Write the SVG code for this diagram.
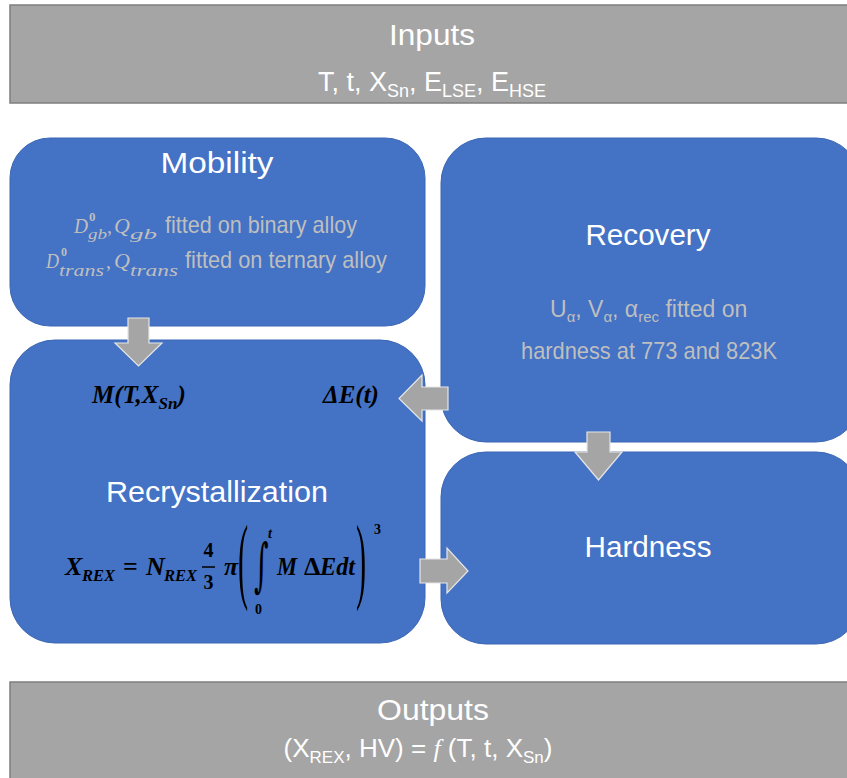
<svg xmlns="http://www.w3.org/2000/svg" width="847" height="778" viewBox="0 0 847 778">
<defs>
<style>
.gbox{fill:#A5A5A5;stroke:#7F7F7F;stroke-width:1.5}
.bbox{fill:#4472C4;stroke:#3A66B4;stroke-width:1}
.arr{fill:#A5A5A5;stroke:#E6E6E6;stroke-width:1.2}
.title{font-family:"Liberation Sans",Arial,sans-serif;fill:#FFFFFF;font-size:30px}
.body{font-family:"Liberation Sans",Arial,sans-serif;fill:#BFBFBF;font-size:24px}
.mg{font-family:"Liberation Serif","Times New Roman",serif;fill:#BFBFBF;font-style:italic}
.mb{font-family:"Liberation Serif","Times New Roman",serif;fill:#000000;font-style:italic;font-weight:bold}
.mr{font-family:"Liberation Serif","Times New Roman",serif;fill:#000000}
</style>
</defs>

<g id="inputs">
<rect class="gbox" x="10" y="5" width="845" height="98"/>
<text class="title" x="432" y="45" text-anchor="middle" textLength="86" lengthAdjust="spacingAndGlyphs">Inputs</text>
<text class="title" x="432" y="91" text-anchor="middle" style="font-size:27px">T, t, X<tspan dy="6" style="font-size:18px">Sn</tspan><tspan dy="-6">, E</tspan><tspan dy="6" style="font-size:18px">LSE</tspan><tspan dy="-6">, E</tspan><tspan dy="6" style="font-size:18px">HSE</tspan></text>
</g>

<g id="mobility">
<rect class="bbox" x="10" y="138" width="415" height="188" rx="40" ry="40"/>
<text class="title" x="217" y="173" text-anchor="middle" textLength="113" lengthAdjust="spacingAndGlyphs">Mobility</text>
<text class="mg" x="74" y="233" style="font-size:22px" textLength="14" lengthAdjust="spacingAndGlyphs">D</text>
<text class="mr" x="89" y="221" style="font-size:13px;fill:#BFBFBF;font-weight:bold">0</text>
<text class="mg" x="88" y="239" style="font-size:15px" textLength="19" lengthAdjust="spacingAndGlyphs">gb</text>
<text class="mg" x="107" y="233" style="font-size:20px;font-style:normal">,</text>
<text class="mg" x="114" y="233" style="font-size:22px">Q</text>
<text class="mg" x="130" y="239" style="font-size:15px" textLength="27" lengthAdjust="spacingAndGlyphs">gb</text>
<text class="body" x="165" y="233" textLength="192" lengthAdjust="spacingAndGlyphs">fitted on binary alloy</text>
<text class="mg" x="46" y="268" style="font-size:22px" textLength="13" lengthAdjust="spacingAndGlyphs">D</text>
<text class="mr" x="61" y="256" style="font-size:12px;fill:#BFBFBF;font-weight:bold">0</text>
<text class="mg" x="59" y="276" style="font-size:16px" textLength="45" lengthAdjust="spacingAndGlyphs">trans</text>
<text class="mg" x="106" y="268" style="font-size:20px;font-style:normal">,</text>
<text class="mg" x="114" y="268" style="font-size:22px">Q</text>
<text class="mg" x="130" y="276" style="font-size:16px" textLength="48" lengthAdjust="spacingAndGlyphs">trans</text>
<text class="body" x="185" y="268" textLength="202" lengthAdjust="spacingAndGlyphs">fitted on ternary alloy</text>
</g>

<g id="recovery">
<rect class="bbox" x="441" y="138" width="420" height="304" rx="45" ry="45"/>
<text class="title" x="648" y="245" text-anchor="middle" textLength="125" lengthAdjust="spacingAndGlyphs">Recovery</text>
<text class="body" x="550" y="317" style="font-size:23px">U<tspan dy="5" style="font-size:15px">α</tspan><tspan dy="-5">, V</tspan><tspan dy="5" style="font-size:15px">α</tspan><tspan dy="-5">, α</tspan><tspan dy="5" style="font-size:15px">rec</tspan><tspan dy="-5"> fitted on</tspan></text>
<text class="body" x="649" y="359" text-anchor="middle" textLength="256" lengthAdjust="spacingAndGlyphs">hardness at 773 and 823K</text>
</g>

<g id="recrystallization">
<rect class="bbox" x="10" y="340" width="415" height="303" rx="45" ry="45"/>
<text class="mb" x="92" y="403" style="font-size:25px">M(T,X<tspan dy="6" style="font-size:17px">Sn</tspan><tspan dy="-6">)</tspan></text>
<text class="mb" x="323" y="403" style="font-size:25px">ΔE(t)</text>
<text class="title" x="217" y="502" text-anchor="middle" textLength="222" lengthAdjust="spacingAndGlyphs">Recrystallization</text>
<text class="mb" x="65" y="575" style="font-size:26px">X</text>
<text class="mb" x="82" y="581" style="font-size:17px" textLength="33" lengthAdjust="spacingAndGlyphs">REX</text>
<text class="mr" x="123" y="575" style="font-size:26px;font-weight:bold">=</text>
<text class="mb" x="146" y="575" style="font-size:26px">N</text>
<text class="mb" x="164" y="581" style="font-size:17px" textLength="33" lengthAdjust="spacingAndGlyphs">REX</text>
<text class="mr" x="208.5" y="557" text-anchor="middle" style="font-size:20px;font-weight:bold">4</text>
<line x1="202" y1="567" x2="215" y2="567" stroke="#000" stroke-width="1.5"/>
<text class="mr" x="208.5" y="589" text-anchor="middle" style="font-size:20px;font-weight:bold">3</text>
<text class="mb" x="224" y="575" style="font-size:26px">π</text>
<text class="mr" transform="translate(238,591) scale(0.32,1)" style="font-size:95px">(</text>
<text class="mr" transform="translate(254,585) scale(0.7,1.45)" style="font-size:40px;font-family:'DejaVu Serif',serif">∫</text>
<text class="mb" x="268" y="538" style="font-size:14px">t</text>
<text class="mr" x="255" y="614" style="font-size:14px;font-weight:bold">0</text>
<text class="mb" x="277" y="575" style="font-size:26px" textLength="20" lengthAdjust="spacingAndGlyphs">M</text>
<text class="mr" x="304" y="575" style="font-size:26px;font-weight:bold">Δ</text>
<text class="mb" x="320" y="575" style="font-size:26px" textLength="35" lengthAdjust="spacingAndGlyphs">Edt</text>
<text class="mr" transform="translate(356,591) scale(0.32,1)" style="font-size:95px">)</text>
<text class="mr" x="374" y="534" style="font-size:14px;font-weight:bold">3</text>
</g>

<g id="hardness">
<rect class="bbox" x="441" y="452" width="420" height="192" rx="45" ry="45"/>
<text class="title" x="648" y="557" text-anchor="middle" textLength="127" lengthAdjust="spacingAndGlyphs">Hardness</text>
</g>

<g id="outputs">
<rect class="gbox" x="10" y="682" width="845" height="110"/>
<text class="title" x="433" y="720" text-anchor="middle" textLength="112" lengthAdjust="spacingAndGlyphs">Outputs</text>
<text class="title" x="418" y="757" text-anchor="middle" style="font-size:26px">(X<tspan dy="6" style="font-size:17px">REX</tspan><tspan dy="-6">, HV) = </tspan><tspan style="font-family:'Liberation Serif',serif;font-style:italic">f</tspan> (T, t, X<tspan dy="6" style="font-size:17px">Sn</tspan><tspan dy="-6">)</tspan></text>
</g>

<g id="connectors">
<polygon class="arr" points="128,318 149,318 149,343 162,343 138.5,366 115,343 128,343"/>
<polygon class="arr" points="448,387 422,387 422,375 399,398.5 422,421 422,410 448,410"/>
<polygon class="arr" points="587,432 610,432 610,452 622,452 598.5,480 575,452 587,452"/>
<polygon class="arr" points="420,559 447,559 447,548 468,571 447,593 447,583 420,583"/>
</g>
</svg>
